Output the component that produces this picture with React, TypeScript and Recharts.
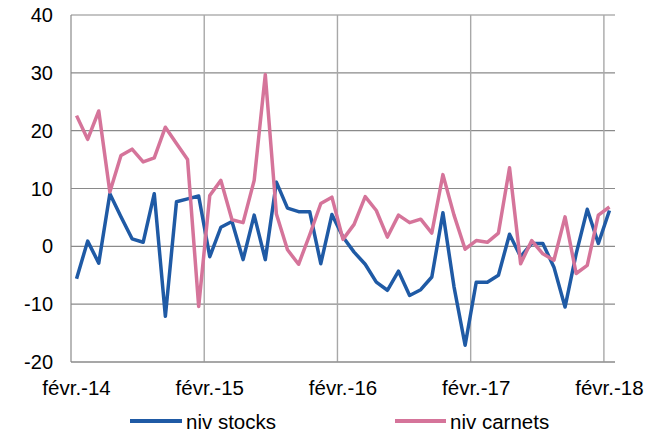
import React from "react";
import { LineChart, Line, XAxis, YAxis, CartesianGrid, ReferenceLine } from "recharts";

const months = [
  "févr.-14", "mars-14", "avr.-14", "mai-14", "juin-14", "juil.-14", "août-14", "sept.-14", "oct.-14", "nov.-14", "déc.-14", "janv.-15",
  "févr.-15", "mars-15", "avr.-15", "mai-15", "juin-15", "juil.-15", "août-15", "sept.-15", "oct.-15", "nov.-15", "déc.-15", "janv.-16",
  "févr.-16", "mars-16", "avr.-16", "mai-16", "juin-16", "juil.-16", "août-16", "sept.-16", "oct.-16", "nov.-16", "déc.-16", "janv.-17",
  "févr.-17", "mars-17", "avr.-17", "mai-17", "juin-17", "juil.-17", "août-17", "sept.-17", "oct.-17", "nov.-17", "déc.-17", "janv.-18",
  "févr.-18",
];

const nivStocks = [
  -5.6, 0.9, -2.9, 9.1, 5.1, 1.3, 0.7, 9.1, -12.1, 7.7, 8.2, 8.7,
  -1.8, 3.3, 4.3, -2.3, 5.4, -2.3, 11.1, 6.6, 6.0, 6.0, -3.0, 5.5,
  1.6, -1.0, -3.1, -6.2, -7.6, -4.3, -8.5, -7.5, -5.3, 5.8, -7.0, -17.1,
  -6.2, -6.2, -5.0, 2.1, -1.8, 0.5, 0.5, -3.6, -10.5, -1.3, 6.4, 0.5,
  6.2,
];

const nivCarnets = [
  22.6, 18.5, 23.4, 9.4, 15.7, 16.8, 14.6, 15.3, 20.6, 17.8, 15.0, -10.4,
  8.8, 11.4, 4.6, 4.1, 11.4, 29.7, 5.6, -0.6, -3.1, 2.0, 7.4, 8.5,
  1.2, 3.8, 8.6, 6.2, 1.6, 5.4, 4.1, 4.7, 2.3, 12.4, 5.4, -0.5,
  1.0, 0.7, 2.3, 13.6, -3.0, 1.0, -1.3, -2.4, 5.1, -4.7, -3.3, 5.4,
  6.8,
];

const yTicks = [-20, -10, 0, 10, 20, 30, 40];
const labelIdx = [0, 12, 24, 36, 48];
const yearBounds = [11.5, 23.5, 35.5, 47.5];

const seriesNames = ["niv stocks", "niv carnets"];
const BLUE = "#1f5aa5";
const PINK = "#d5749a";

const data = months.map((m, i) => ({ i, month: m, stocks: nivStocks[i], carnets: nivCarnets[i] }));

const FONT = "'Liberation Sans', Arial, sans-serif";

export default function App() {
  return (
    <div style={{ position: "absolute", left: 0, top: 0, width: 656, height: 432, fontFamily: FONT, background: "#fff", overflow: "hidden" }}>
      <LineChart width={656} height={432} data={data} margin={{ top: 15, right: 41, bottom: 30, left: 0 }}>
        <CartesianGrid vertical={false} stroke="#8a8a8a" strokeWidth={1.2} />
        {yearBounds.map((b) => (
          <ReferenceLine key={b} x={b} stroke="#a8a8a8" strokeWidth={1.4} />
        ))}
        <XAxis
          dataKey="i"
          type="number"
          domain={[-0.5, 48.5]}
          ticks={labelIdx}
          tickFormatter={(v: number) => months[v]}
          interval={0}
          height={40}
          tickLine={false}
          tickMargin={12}
          axisLine={{ stroke: "#8a8a8a", strokeWidth: 1.2 }}
          tick={{ fill: "#000", fontSize: 20.5, fontFamily: FONT }}
        />
        <YAxis
          domain={[-20, 40]}
          ticks={yTicks}
          interval={0}
          width={71}
          tickLine={false}
          tickMargin={12}
          axisLine={{ stroke: "#8a8a8a", strokeWidth: 1.2 }}
          tick={{ fill: "#000", fontSize: 20, fontFamily: FONT }}
        />
        <Line dataKey="stocks" name={seriesNames[0]} stroke={BLUE} strokeWidth={3.5} dot={false} strokeLinejoin="round" isAnimationActive={false} />
        <Line dataKey="carnets" name={seriesNames[1]} stroke={PINK} strokeWidth={3.5} dot={false} strokeLinejoin="round" isAnimationActive={false} />
      </LineChart>
      <div style={{ position: "absolute", left: 129.5, top: 419.3, width: 52, height: 3.5, background: BLUE }} />
      <div style={{ position: "absolute", left: 186, top: 412.3, fontSize: 20.5, lineHeight: "19px", height: 19, color: "#000", whiteSpace: "nowrap" }}>{seriesNames[0]}</div>
      <div style={{ position: "absolute", left: 395, top: 419.3, width: 51, height: 3.5, background: PINK }} />
      <div style={{ position: "absolute", left: 450, top: 412.3, fontSize: 20.5, lineHeight: "19px", height: 19, color: "#000", whiteSpace: "nowrap" }}>{seriesNames[1]}</div>
    </div>
  );
}
